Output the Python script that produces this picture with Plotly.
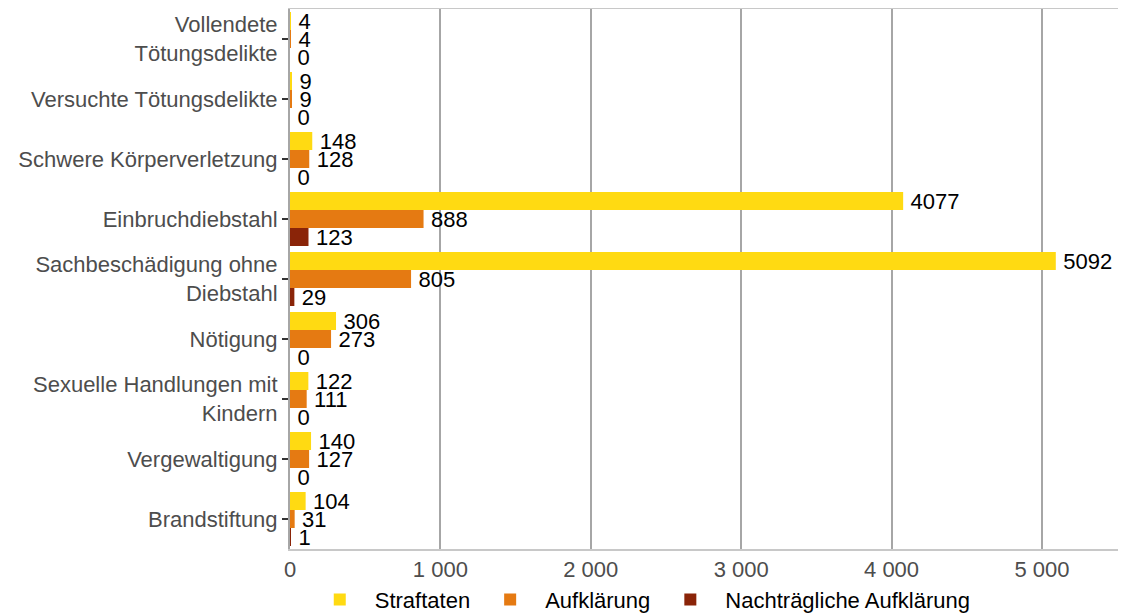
import plotly.graph_objects as go

categories = [
    "Vollendete<br>Tötungsdelikte",
    "Versuchte Tötungsdelikte",
    "Schwere Körperverletzung",
    "Einbruchdiebstahl",
    "Sachbeschädigung ohne<br>Diebstahl",
    "Nötigung",
    "Sexuelle Handlungen mit<br>Kindern",
    "Vergewaltigung",
    "Brandstiftung",
]
straftaten = [4, 9, 148, 4077, 5092, 306, 122, 140, 104]
aufklaerung = [4, 9, 128, 888, 805, 273, 111, 127, 31]
nachtraeglich = [0, 0, 0, 123, 29, 0, 0, 0, 1]

series_names = ["Straftaten", "Aufklärung", "Nachträgliche Aufklärung"]
series_values = [straftaten, aufklaerung, nachtraeglich]
series_colors = ["#FFDA12", "#E57A12", "#8A2408"]

x_tickvals = [0, 1000, 2000, 3000, 4000, 5000]

FONT = "Liberation Sans, Arial, sans-serif"

fig = go.Figure()
for name, vals, col in zip(series_names, series_values, series_colors):
    fig.add_trace(go.Bar(
        y=categories,
        x=vals,
        name=name,
        orientation="h",
        marker=dict(color=col, line=dict(width=0)),
        text=[str(v) for v in vals],
        texttemplate="\u2009%{text}",
        textposition="outside",
        constraintext="none",
        cliponaxis=False,
        textfont=dict(family=FONT, size=22, color="#000000"),
        hoverinfo="x+name",
    ))

fig.update_layout(
    barmode="group",
    bargap=0.1,
    bargroupgap=0,
    width=1126,
    height=616,
    margin=dict(l=282, r=0, t=1, b=75, autoexpand=False),
    paper_bgcolor="white",
    plot_bgcolor="white",
    font=dict(family=FONT, size=22, color="#4D4D4D"),
    separators=", ",
    showlegend=True,
    legend=dict(
        orientation="h",
        x=0.415,
        xanchor="center",
        y=-0.055,
        yanchor="top",
        font=dict(family=FONT, size=22, color="#000000"),
        traceorder="normal",
        itemwidth=60,
    ),
    xaxis=dict(
        range=[0, 5612],
        tickvals=x_tickvals,
        tickformat=",d",
        automargin=False,
        showgrid=True,
        gridcolor="#A6A6A6",
        gridwidth=2,
        showline=True,
        linecolor="#C8C8C8",
        linewidth=2,
        mirror=True,
        ticks="",
        zeroline=False,
        tickfont=dict(family=FONT, size=22, color="#4D4D4D"),
    ),
    yaxis=dict(
        autorange="reversed",
        automargin=False,
        showgrid=False,
        showline=True,
        linecolor="#A6A6A6",
        linewidth=2,
        ticks="outside",
        ticklen=6,
        tickwidth=2,
        tickcolor="#333333",
        tickfont=dict(family=FONT, size=22, color="#4D4D4D"),
    ),
)

fig.write_html("out.html")
